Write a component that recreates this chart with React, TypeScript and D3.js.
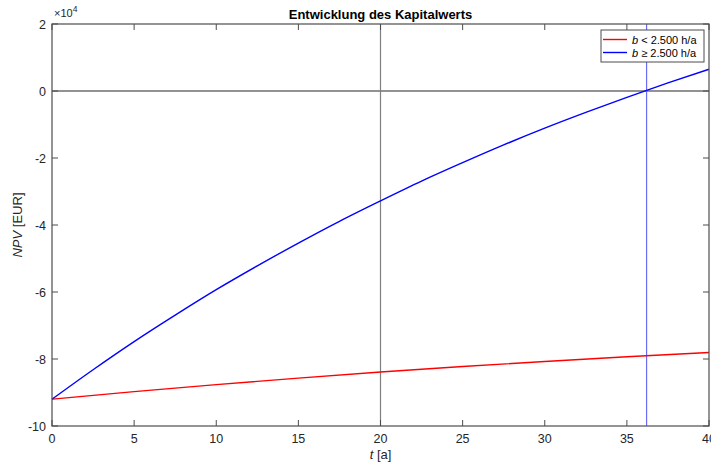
import { useMemo } from "react";
import * as d3 from "d3";

const width = 711;
const height = 464;
const margin = { top: 24, right: 2, bottom: 38, left: 52 };

// values in units of 10^4 EUR
const yearsBlue = [0, 2.5, 5, 7.5, 10, 12.5, 15, 17.5, 20, 22.5, 25, 27.5, 30, 32.5, 35, 37.5, 40];
const npvBlue = [-9.2, -8.32, -7.48, -6.69, -5.93, -5.22, -4.54, -3.89, -3.28, -2.69, -2.14, -1.61, -1.11, -0.64, -0.19, 0.24, 0.65];
const yearsRed = [0, 5, 10, 15, 20, 25, 30, 35, 40];
const npvRed = [-9.2, -8.975, -8.765, -8.57, -8.39, -8.225, -8.075, -7.935, -7.805];

const xTicks = [0, 5, 10, 15, 20, 25, 30, 35, 40];
const yTicks = [-10, -8, -6, -4, -2, 0, 2];
const markerYears = [20, 36.2];

const font = "'Liberation Sans', Arial, Helvetica, sans-serif";
const axisColor = "#4d4d4d";
const textColor = "#262626";

const App = () => {
  const { xScale, yScale, blueLine, redLine } = useMemo(() => {
    const xScale = d3.scaleLinear().domain([0, 40]).range([margin.left, width - margin.right]);
    const yScale = d3.scaleLinear().domain([-10, 2]).range([height - margin.bottom, margin.top]);
    const gen = d3
      .line<[number, number]>()
      .x((d) => xScale(d[0]))
      .y((d) => yScale(d[1]))
      .curve(d3.curveMonotoneX);
    const blueLine = gen(yearsBlue.map((t, i) => [t, npvBlue[i]]));
    const redLine = gen(yearsRed.map((t, i) => [t, npvRed[i]]));
    return { xScale, yScale, blueLine, redLine };
  }, []);

  const x0 = xScale(0);
  const x1 = xScale(40);
  const y0 = yScale(-10);
  const y1 = yScale(2);
  const tick = 6;

  return (
    <svg width={width} height={height} style={{ position: "absolute", left: 0, top: 0 }} fontFamily={font}>
      <rect x={0} y={0} width={width} height={height} fill="#fff" />

      {/* reference lines */}
      <line x1={x0} x2={x1} y1={yScale(0)} y2={yScale(0)} stroke="#6e6e6e" strokeWidth={1.4} />
      <line x1={xScale(markerYears[0])} x2={xScale(markerYears[0])} y1={y1} y2={y0} stroke="#7f7f7f" strokeWidth={1.2} />
      <line x1={xScale(markerYears[1])} x2={xScale(markerYears[1])} y1={y1} y2={y0} stroke="#6b6bf5" strokeWidth={1.2} />

      {/* data */}
      <path d={redLine ?? ""} fill="none" stroke="#ff0000" strokeWidth={1.4} />
      <path d={blueLine ?? ""} fill="none" stroke="#0000ff" strokeWidth={1.4} />

      {/* axes box */}
      <rect x={x0} y={y1} width={x1 - x0} height={y0 - y1} fill="none" stroke={axisColor} strokeWidth={1.2} />
      {xTicks.map((t) => (
        <g key={"x" + t}>
          <line x1={xScale(t)} x2={xScale(t)} y1={y0} y2={y0 - tick} stroke={axisColor} />
          <line x1={xScale(t)} x2={xScale(t)} y1={y1} y2={y1 + tick} stroke={axisColor} />
          <text x={xScale(t)} y={y0 + 17} textAnchor="middle" fontSize={12.5} fill={textColor}>
            {t}
          </text>
        </g>
      ))}
      {yTicks.map((t) => (
        <g key={"y" + t}>
          <line x1={x0} x2={x0 + tick} y1={yScale(t)} y2={yScale(t)} stroke={axisColor} />
          <line x1={x1} x2={x1 - tick} y1={yScale(t)} y2={yScale(t)} stroke={axisColor} />
          <text x={x0 - 6} y={yScale(t) + 4.5} textAnchor="end" fontSize={12.5} fill={textColor}>
            {t}
          </text>
        </g>
      ))}

      {/* exponent */}
      <text x={x0 + 2} y={y1 - 7} fontSize={11} fill={textColor}>
        ×10
        <tspan dy={-5} fontSize={8.5}>
          4
        </tspan>
      </text>

      {/* title and labels */}
      <text x={(x0 + x1) / 2} y={19} textAnchor="middle" fontSize={13} fontWeight="bold" fill="#000">
        Entwicklung des Kapitalwerts
      </text>
      <text x={(x0 + x1) / 2} y={459} textAnchor="middle" fontSize={13} fill={textColor}>
        <tspan fontStyle="italic">t</tspan> [a]
      </text>
      <text
        transform={`translate(22, ${(y0 + y1) / 2}) rotate(-90)`}
        textAnchor="middle"
        fontSize={13}
        fill={textColor}
      >
        <tspan fontStyle="italic">NPV</tspan> [EUR]
      </text>

      {/* legend */}
      <g>
        <rect x={601} y={30} width={103} height={32} fill="#fff" stroke={axisColor} strokeWidth={1} />
        <line x1={603} x2={627} y1={39.5} y2={39.5} stroke="#ff0000" strokeWidth={1.4} />
        <line x1={603} x2={627} y1={52.5} y2={52.5} stroke="#0000ff" strokeWidth={1.4} />
        <text x={632} y={43.5} fontSize={11} fill="#000">
          <tspan fontStyle="italic">b</tspan> {"< 2.500 h/a"}
        </text>
        <text x={632} y={56.5} fontSize={11} fill="#000">
          <tspan fontStyle="italic">b</tspan> {"≥ 2.500 h/a"}
        </text>
      </g>
    </svg>
  );
};

export default App;
